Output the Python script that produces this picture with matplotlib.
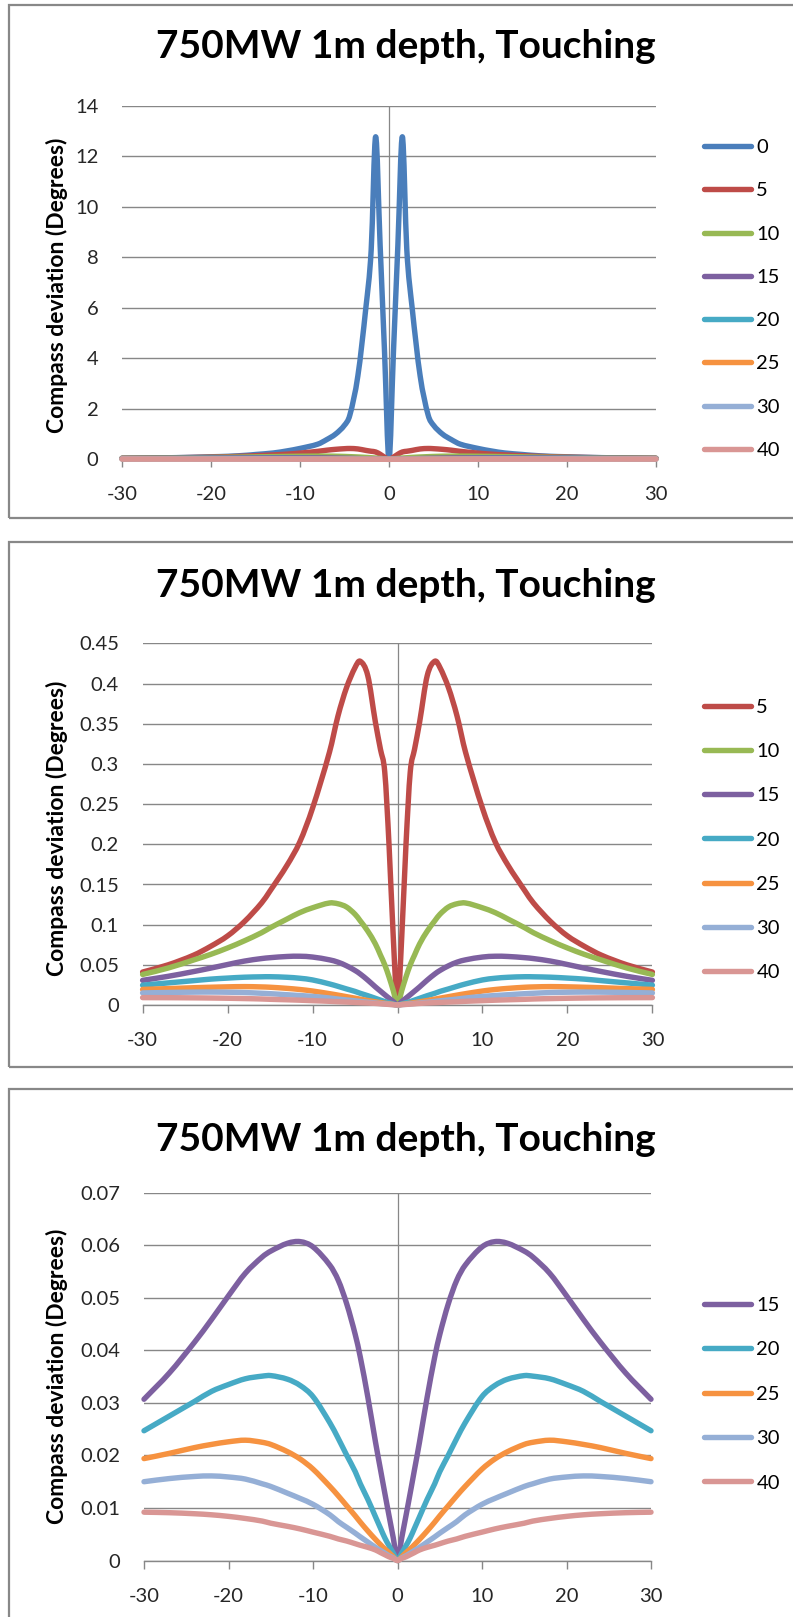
import matplotlib
matplotlib.use('Agg')
import matplotlib.pyplot as plt
from matplotlib.patches import Rectangle, PathPatch
from matplotlib.path import Path
from matplotlib.lines import Line2D

plt.rcParams['font.family'] = ['Lato', 'DejaVu Sans']
plt.rcParams['axes.unicode_minus'] = False

# distance along the route (m)
x = [-30, -27, -24, -22, -20, -18, -16, -15, -13, -11.5, -10, -8, -7, -6, -5, -4.4, -3.5, -2.6, -2, -1.5, -1, -0.5,
     0, 0.5, 1, 1.5, 2, 2.6, 3.5, 4.4, 5, 6, 7, 8, 10, 11.5, 13, 15, 16, 18, 20, 22, 24, 27, 30]

# compass deviation (degrees) per series
dev_0 = [0.04, 0.05, 0.065, 0.08, 0.10, 0.12, 0.16, 0.19, 0.25, 0.33, 0.43, 0.60, 0.78, 1.0, 1.35, 1.75, 3.3, 6.0, 8.3, 12.77, 8.5, 4.25,
         0, 4.25, 8.5, 12.77, 8.3, 6.0, 3.3, 1.75, 1.35, 1.0, 0.78, 0.60, 0.43, 0.33, 0.25, 0.19, 0.16, 0.12, 0.10, 0.08, 0.065, 0.05, 0.04]
dev_5 = [0.041, 0.050, 0.062, 0.073, 0.086, 0.104, 0.127, 0.142, 0.174, 0.203, 0.245, 0.315, 0.36, 0.395, 0.42, 0.428, 0.41, 0.352, 0.318, 0.29, 0.20, 0.085,
         0, 0.085, 0.20, 0.29, 0.318, 0.352, 0.41, 0.428, 0.42, 0.395, 0.36, 0.315, 0.245, 0.203, 0.174, 0.142, 0.127, 0.104, 0.086, 0.073, 0.062, 0.050, 0.041]
dev_10 = [0.038, 0.046, 0.056, 0.063, 0.071, 0.080, 0.090, 0.096, 0.107, 0.115, 0.121, 0.127, 0.126, 0.122, 0.113, 0.105, 0.092, 0.076, 0.062, 0.050, 0.035, 0.018,
          0, 0.018, 0.035, 0.050, 0.062, 0.076, 0.092, 0.105, 0.113, 0.122, 0.126, 0.127, 0.121, 0.115, 0.107, 0.096, 0.090, 0.080, 0.071, 0.063, 0.056, 0.046, 0.038]
dev_15 = [0.0307, 0.0357, 0.0416, 0.0459, 0.0504, 0.0547, 0.0578, 0.0589, 0.0604, 0.0607, 0.0597, 0.0562, 0.0533, 0.0488, 0.0430, 0.0387, 0.0310, 0.0225, 0.0172, 0.0128, 0.0085, 0.0043,
          0, 0.0043, 0.0085, 0.0128, 0.0172, 0.0225, 0.0310, 0.0387, 0.0430, 0.0488, 0.0533, 0.0562, 0.0597, 0.0607, 0.0604, 0.0589, 0.0578, 0.0547, 0.0504, 0.0459, 0.0416, 0.0357, 0.0307]
dev_20 = [0.0247, 0.0275, 0.0303, 0.0322, 0.0335, 0.0346, 0.0351, 0.0352, 0.0345, 0.0333, 0.0312, 0.0262, 0.0232, 0.0200, 0.0169, 0.0146, 0.0116, 0.0083, 0.0061, 0.0043, 0.0028, 0.0014,
          0, 0.0014, 0.0028, 0.0043, 0.0061, 0.0083, 0.0116, 0.0146, 0.0169, 0.0200, 0.0232, 0.0262, 0.0312, 0.0333, 0.0345, 0.0352, 0.0351, 0.0346, 0.0335, 0.0322, 0.0303, 0.0275, 0.0247]
dev_25 = [0.0194, 0.0204, 0.0215, 0.0221, 0.0226, 0.0229, 0.0225, 0.0221, 0.0207, 0.0193, 0.0174, 0.0141, 0.0123, 0.0104, 0.0085, 0.0073, 0.0056, 0.0040, 0.0030, 0.0022, 0.0015, 0.0007,
          0, 0.0007, 0.0015, 0.0022, 0.0030, 0.0040, 0.0056, 0.0073, 0.0085, 0.0104, 0.0123, 0.0141, 0.0174, 0.0193, 0.0207, 0.0221, 0.0225, 0.0229, 0.0226, 0.0221, 0.0215, 0.0204, 0.0194]
dev_30 = [0.0150, 0.0156, 0.0160, 0.0161, 0.0159, 0.0155, 0.0146, 0.0141, 0.0128, 0.0118, 0.0107, 0.0087, 0.0074, 0.0063, 0.0052, 0.0045, 0.0035, 0.0025, 0.0019, 0.0014, 0.0009, 0.0005,
          0, 0.0005, 0.0009, 0.0014, 0.0019, 0.0025, 0.0035, 0.0045, 0.0052, 0.0063, 0.0074, 0.0087, 0.0107, 0.0118, 0.0128, 0.0141, 0.0146, 0.0155, 0.0159, 0.0161, 0.0160, 0.0156, 0.0150]
dev_40 = [0.0092, 0.0091, 0.0089, 0.0087, 0.0084, 0.0080, 0.0075, 0.0071, 0.0065, 0.0060, 0.0054, 0.0046, 0.0041, 0.0037, 0.0032, 0.0029, 0.0025, 0.0020, 0.0015, 0.0011, 0.0007, 0.0004,
          0, 0.0004, 0.0007, 0.0011, 0.0015, 0.0020, 0.0025, 0.0029, 0.0032, 0.0037, 0.0041, 0.0046, 0.0054, 0.0060, 0.0065, 0.0071, 0.0075, 0.0080, 0.0084, 0.0087, 0.0089, 0.0091, 0.0092]

labels = ['0', '5', '10', '15', '20', '25', '30', '40']
series = [dev_0, dev_5, dev_10, dev_15, dev_20, dev_25, dev_30, dev_40]
colors = ['#4A7EBB', '#BE4B48', '#98B954', '#7D60A0', '#46AAC5', '#F69240', '#95AFD6', '#D99694']

x_ticks = [-30, -20, -10, 0, 10, 20, 30]
y_ticks_1 = [0, 2, 4, 6, 8, 10, 12, 14]
y_ticks_2 = [0, 0.05, 0.1, 0.15, 0.2, 0.25, 0.3, 0.35, 0.4, 0.45]
y_ticks_3 = [0, 0.01, 0.02, 0.03, 0.04, 0.05, 0.06, 0.07]
y_labels_2 = ['0', '0.05', '0.1', '0.15', '0.2', '0.25', '0.3', '0.35', '0.4', '0.45']
y_labels_3 = ['0', '0.01', '0.02', '0.03', '0.04', '0.05', '0.06', '0.07']

title = '750MW 1m depth, Touching'
ylab = 'Compass deviation (Degrees)'

W, H = 793, 1617
GRID = '#878787'
LW = 3.9


def smooth_path(xs, ys):
    # smoothed line (cubic hermite / bezier segments through the points)
    n = len(xs)
    m = []
    for i in range(n):
        a = max(i - 1, 0)
        d = min(i + 1, n - 1)
        m.append((ys[d] - ys[a]) / (xs[d] - xs[a]))
    verts = [(xs[0], ys[0])]
    codes = [Path.MOVETO]
    for i in range(n - 1):
        h = (xs[i + 1] - xs[i]) / 3
        verts += [(xs[i] + h, ys[i] + m[i] * h), (xs[i + 1] - h, ys[i + 1] - m[i + 1] * h), (xs[i + 1], ys[i + 1])]
        codes += [Path.CURVE4] * 3
    return Path(verts, codes)


fig = plt.figure(figsize=(W / 100, H / 100), dpi=100)

# (axes left, top, right, bottom px), box top/bottom px, title baseline, ylabel centre, legend centre, legend spacing
panels = [
    dict(ax=(122, 105.7, 656, 459.3), box=(5, 518), ty=58, ly=285, legy=299, sp=1.3,
         idx=[0, 1, 2, 3, 4, 5, 6, 7], ticks=y_ticks_1, tlabels=[str(t) for t in y_ticks_1]),
    dict(ax=(142.6, 643.5, 652.4, 1005), box=(541.6, 1067), ty=597, ly=828, legy=840, sp=1.34,
         idx=[1, 2, 3, 4, 5, 6, 7], ticks=y_ticks_2, tlabels=y_labels_2),
    dict(ax=(144, 1192.8, 651, 1560.5), box=(1089, 1630), ty=1151, ly=1376, legy=1394, sp=1.36,
         idx=[3, 4, 5, 6, 7], ticks=y_ticks_3, tlabels=y_labels_3),
]

for p in panels:
    b0, b1 = p['box']
    fig.add_artist(Rectangle((9 / W, 1 - b1 / H), 1.0, (b1 - b0) / H, transform=fig.transFigure,
                             fill=False, edgecolor='#888888', linewidth=1.6))
    l, t, r, b = p['ax']
    ax = fig.add_axes([l / W, 1 - b / H, (r - l) / W, (b - t) / H])
    handles = []
    for i in p['idx']:
        ax.add_patch(PathPatch(smooth_path(x, series[i]), facecolor='none', edgecolor=colors[i], lw=LW,
                               joinstyle='round', capstyle='round', clip_on=False, zorder=3))
        handles.append(Line2D([], [], color=colors[i], lw=LW, solid_capstyle='round'))
    ax.set_xlim(-30, 30)
    ax.set_ylim(0, p['ticks'][-1])
    ax.set_xticks(x_ticks)
    ax.set_xticklabels([str(v) for v in x_ticks])
    ax.set_yticks(p['ticks'])
    ax.set_yticklabels(p['tlabels'])
    ax.axvline(0, color=GRID, lw=0.9, zorder=1.5)
    ax.yaxis.grid(True, color=GRID, lw=1.0)
    ax.set_axisbelow(True)
    for s in ['top', 'right', 'left']:
        ax.spines[s].set_visible(False)
    ax.spines['bottom'].set_color(GRID)
    ax.spines['bottom'].set_linewidth(1.0)
    ax.tick_params(axis='x', length=6, width=1, color=GRID, pad=13.5, labelsize=14.5, labelcolor='#262626')
    ax.tick_params(axis='y', length=0, pad=17, labelsize=14.5, labelcolor='#262626')
    ax.legend(handles, [labels[i] for i in p['idx']], loc='center left',
              bbox_to_anchor=(704 / W, 1 - p['legy'] / H), bbox_transform=fig.transFigure,
              frameon=False, fontsize=14.5, handlelength=2.35, handletextpad=0.25, labelspacing=p['sp'],
              borderpad=0, borderaxespad=0)
    fig.text(406 / W, 1 - p['ty'] / H, title, ha='center', va='baseline', fontsize=28, fontweight='bold')
    fig.text(57 / W, 1 - p['ly'] / H, ylab, ha='center', va='center', rotation=90, fontsize=16.5, fontweight='bold')

fig.savefig('out.png', dpi=100)
